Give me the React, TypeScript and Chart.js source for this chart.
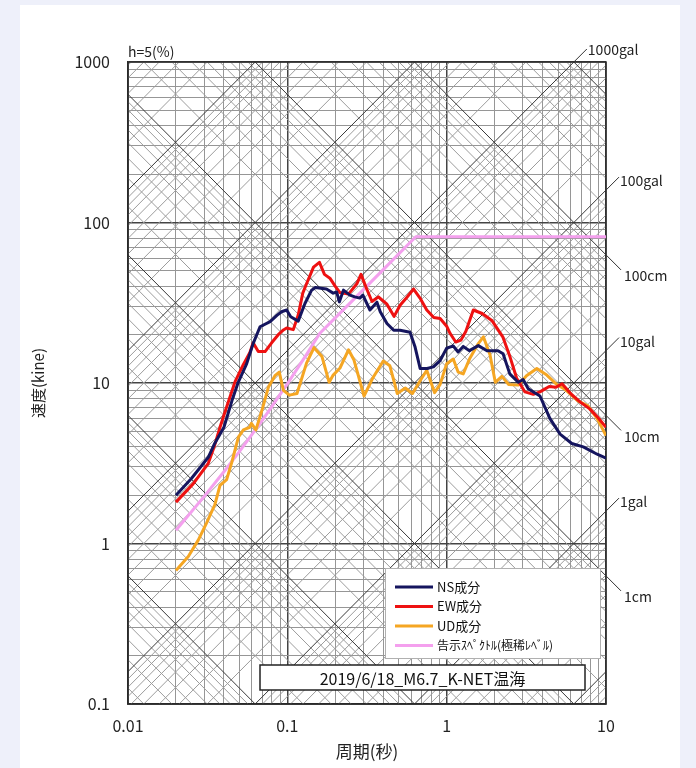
import React, { useEffect, useRef } from 'react';
import { Chart, registerables } from 'chart.js';

Chart.register(...registerables);

// ---------- data ----------
const nsPeriods = [0.02, 0.025, 0.032, 0.035, 0.04, 0.045, 0.049, 0.0556, 0.061, 0.0674, 0.078, 0.086, 0.092, 0.099, 0.105, 0.117, 0.129, 0.142, 0.15, 0.176, 0.194, 0.204, 0.212, 0.225, 0.247, 0.265, 0.285, 0.298, 0.33, 0.365, 0.383, 0.422, 0.465, 0.51, 0.589, 0.632, 0.682, 0.753, 0.826, 0.91, 1.0, 1.1, 1.18, 1.27, 1.39, 1.58, 1.79, 2.1, 2.26, 2.49, 2.81, 3.02, 3.25, 3.85, 4.45, 5.15, 6.1, 7.2, 8.8, 10];
const nsValues = [2.0, 2.54, 3.46, 4.2, 5.3, 7.8, 10.0, 13.2, 17.6, 22.4, 24.1, 26.4, 27.8, 28.5, 25.9, 24.3, 31.3, 37.9, 39.3, 38.5, 36.3, 36.9, 32.0, 37.9, 35.3, 34.4, 33.8, 35.3, 28.5, 31.9, 27.8, 23.5, 21.3, 21.3, 20.7, 16.9, 12.3, 12.3, 12.6, 13.8, 16.5, 17.0, 15.6, 16.9, 15.9, 17.1, 15.9, 15.9, 15.2, 11.4, 10.1, 10.5, 9.2, 8.3, 6.0, 4.8, 4.2, 4.0, 3.6, 3.4];

const ewPeriods = [0.02, 0.0257, 0.0319, 0.035, 0.0378, 0.0406, 0.0437, 0.047, 0.0529, 0.0582, 0.061, 0.0657, 0.0725, 0.0797, 0.0877, 0.0945, 0.099, 0.109, 0.117, 0.125, 0.132, 0.146, 0.159, 0.171, 0.185, 0.2, 0.214, 0.242, 0.273, 0.29, 0.315, 0.34, 0.373, 0.422, 0.468, 0.51, 0.56, 0.62, 0.68, 0.75, 0.83, 0.91, 1.0, 1.05, 1.14, 1.23, 1.32, 1.47, 1.67, 1.93, 2.25, 2.5, 2.75, 3.1, 3.5, 3.85, 4.4, 4.85, 5.3, 6.0, 6.9, 7.9, 8.9, 10];
const ewValues = [1.81, 2.36, 3.16, 4.1, 5.3, 6.6, 8.2, 10.2, 13.0, 15.5, 17.8, 15.7, 15.7, 17.8, 20.0, 21.4, 22.0, 21.5, 26.5, 36.3, 41.5, 52.7, 56.5, 47.5, 45.0, 40.0, 36.6, 35.8, 41.5, 47.5, 38.5, 32.2, 34.4, 31.0, 26.0, 30.5, 34.0, 38.5, 33.8, 28.5, 25.6, 25.2, 22.6, 20.4, 18.0, 18.5, 21.0, 28.5, 27.1, 24.4, 19.4, 14.5, 10.7, 8.8, 8.5, 8.8, 9.5, 9.4, 9.9, 8.6, 7.6, 6.9, 6.1, 5.3];

const udPeriods = [0.02, 0.0239, 0.0276, 0.0311, 0.0351, 0.0378, 0.0416, 0.0448, 0.0493, 0.053, 0.058, 0.0595, 0.0635, 0.07, 0.076, 0.0836, 0.089, 0.0945, 0.103, 0.115, 0.132, 0.147, 0.165, 0.183, 0.194, 0.214, 0.242, 0.262, 0.303, 0.343, 0.4, 0.44, 0.49, 0.55, 0.61, 0.68, 0.75, 0.84, 0.91, 1.0, 1.1, 1.18, 1.27, 1.39, 1.58, 1.7, 1.87, 2.02, 2.22, 2.45, 2.81, 3.17, 3.68, 4.25, 4.9, 5.55, 6.7, 7.7, 8.8, 10];
const udValues = [0.68, 0.83, 1.05, 1.34, 1.75, 2.3, 2.5, 3.2, 4.6, 5.1, 5.3, 5.6, 5.1, 7.0, 9.4, 11.1, 11.7, 9.0, 8.4, 8.6, 13.3, 16.6, 14.6, 10.1, 11.2, 12.4, 16.1, 13.9, 8.3, 10.7, 13.7, 12.8, 8.6, 9.3, 8.6, 10.3, 12.0, 8.7, 9.8, 13.2, 14.1, 11.7, 11.4, 14.1, 17.6, 19.4, 15.0, 10.1, 11.0, 9.8, 9.7, 11.1, 12.3, 11.2, 9.8, 9.1, 7.7, 7.2, 6.0, 4.7];

const codePeriods = [0.02, 0.03, 0.04, 0.05, 0.07, 0.1, 0.13, 0.16, 0.25, 0.4, 0.64, 1, 2, 5, 10];
const codeValues = [1.21, 1.96, 2.8, 3.74, 5.9, 9.87, 14.7, 20.4, 31.8, 50.9, 81.5, 81.5, 81.5, 81.5, 81.5];

const seriesLabels = ['NS成分', 'EW成分', 'UD成分', '告示ｽﾍﾟｸﾄﾙ(極稀ﾚﾍﾞﾙ)'];
const seriesColors = ['#15155e', '#ee1111', '#f5a623', '#f4a0ee'];

const xMajor = [0.01, 0.1, 1, 10];
const xTickLabels = ['0.01', '0.1', '1', '10'];
const yMajor = [0.1, 1, 10, 100, 1000];
const yTickLabels = ['0.1', '1', '10', '100', '1000'];

const galLabels = ['1000gal', '100gal', '10gal', '1gal'];
const galValues = [1000, 100, 10, 1];
const cmLabels = ['100cm', '10cm', '1cm'];
const cmValues = [100, 10, 1];

const titleText = '2019/6/18_M6.7_K-NET温海';
const dampingText = 'h=5(%)';
const xTitle = '周期(秒)';
const yTitle = '速度(kine)';

const FONT = "'Noto Sans CJK JP', 'Noto Sans', sans-serif";

function gridValues(majors: number[]) {
  const out: number[] = [];
  majors.forEach((d, i) => {
    out.push(d);
    if (i < majors.length - 1) for (let m = 2; m <= 9; m++) out.push(m * d);
  });
  return out;
}
const xGrid = gridValues(xMajor);
const yGrid = gridValues(yMajor);

const zip = (xs: number[], ys: number[]) =>
  xs.slice(0, Math.min(xs.length, ys.length)).map((x, i) => ({ x, y: ys[i] }));

const isMajor = (v: number, majors: number[]) => majors.some((m) => Math.abs(v - m) / m < 1e-6);

const TWO_PI = 2 * Math.PI;

const bgPlugin = {
  id: 'bgPanel',
  beforeDraw(chart: any) {
    const ctx = chart.ctx;
    ctx.save();
    ctx.fillStyle = '#eef0fa';
    ctx.fillRect(0, 0, chart.width, chart.height);
    ctx.fillStyle = '#ffffff';
    ctx.fillRect(20, 5, 660, chart.height - 5);
    ctx.restore();
  },
};

const diagPlugin = {
  id: 'tripartite',
  beforeDatasetsDraw(chart: any) {
    const { ctx, chartArea: a, scales } = chart;
    const xs = scales.x;
    const ys = scales.y;
    const t0 = xMajor[0];
    const t1 = xMajor[xMajor.length - 1];
    ctx.save();
    ctx.beginPath();
    ctx.rect(a.left, a.top, a.right - a.left, a.bottom - a.top);
    ctx.clip();
    const seg = (v0: number, v1: number) => {
      ctx.beginPath();
      ctx.moveTo(xs.getPixelForValue(t0), ys.getPixelForValue(v0));
      ctx.lineTo(xs.getPixelForValue(t1), ys.getPixelForValue(v1));
      ctx.stroke();
    };
    for (const pass of [0, 1]) {
      ctx.strokeStyle = pass === 0 ? '#9c9c9c' : '#383838';
      ctx.lineWidth = 1;
      const mults = pass === 0 ? [2, 3, 4, 5, 6, 7, 8, 9] : [1];
      // displacement lines (cm): V = 2πD/T
      for (let k = -5; k <= 3; k++) {
        for (const m of mults) {
          const d = m * Math.pow(10, k);
          seg((TWO_PI * d) / t0, (TWO_PI * d) / t1);
        }
      }
      // acceleration lines (gal): V = A T / 2π
      for (let k = -3; k <= 6; k++) {
        for (const m of mults) {
          const acc = m * Math.pow(10, k);
          seg((acc * t0) / TWO_PI, (acc * t1) / TWO_PI);
        }
      }
    }
    ctx.restore();
    // plot frame
    ctx.save();
    ctx.strokeStyle = '#2a2a2a';
    ctx.lineWidth = 1.5;
    ctx.strokeRect(a.left, a.top, a.right - a.left, a.bottom - a.top);
    ctx.restore();
  },
};

const textPlugin = {
  id: 'annotations',
  afterDraw(chart: any) {
    const { ctx, chartArea: a, scales } = chart;
    const xs = scales.x;
    const ys = scales.y;
    const tMax = xMajor[xMajor.length - 1];
    const vMax = yMajor[yMajor.length - 1];
    ctx.save();
    ctx.fillStyle = '#222';
    ctx.strokeStyle = '#333';
    ctx.lineWidth = 1;

    // axis titles
    ctx.font = `17px ${FONT}`;
    ctx.textAlign = 'center';
    ctx.textBaseline = 'middle';
    ctx.fillText(xTitle, (a.left + a.right) / 2, 752);
    ctx.save();
    ctx.translate(38, (a.top + a.bottom) / 2);
    ctx.rotate(-Math.PI / 2);
    ctx.font = `15px ${FONT}`;
    ctx.fillText(yTitle, 0, 0);
    ctx.restore();

    // damping
    ctx.font = `14px ${FONT}`;
    ctx.textAlign = 'left';
    ctx.textBaseline = 'alphabetic';
    ctx.fillText(dampingText, a.left, a.top - 5);

    // gal labels
    ctx.font = `14px ${FONT}`;
    ctx.textBaseline = 'middle';
    galValues.forEach((acc, i) => {
      let tx = tMax;
      let v = (acc * tMax) / TWO_PI;
      let top = false;
      if (v > vMax) {
        v = vMax;
        tx = (TWO_PI * vMax) / acc;
        top = true;
      }
      const px = xs.getPixelForValue(tx);
      const py = ys.getPixelForValue(v);
      const ex = px + 13;
      const ey = py - 13;
      ctx.beginPath();
      ctx.moveTo(px, py);
      ctx.lineTo(ex, ey);
      ctx.stroke();
      ctx.fillText(galLabels[i], ex + 1, ey + (top ? 1 : 4));
    });
    cmValues.forEach((d, i) => {
      const v = (TWO_PI * d) / tMax;
      const px = xs.getPixelForValue(tMax);
      const py = ys.getPixelForValue(v);
      const ex = px + 15;
      const ey = py + 15;
      ctx.beginPath();
      ctx.moveTo(px, py);
      ctx.lineTo(ex, ey);
      ctx.stroke();
      ctx.fillText(cmLabels[i], ex + 3, ey + 6);
    });

    // legend box
    const lx = 385, ly = 568, lw = 215, lh = 90;
    ctx.fillStyle = '#ffffff';
    ctx.fillRect(lx, ly, lw, lh);
    ctx.strokeStyle = '#b0b0b0';
    ctx.strokeRect(lx + 0.5, ly + 0.5, lw, lh);
    seriesLabels.forEach((lab, i) => {
      const y = ly + 19 + i * 19.5;
      ctx.strokeStyle = seriesColors[i];
      ctx.lineWidth = 3;
      ctx.beginPath();
      ctx.moveTo(lx + 10, y);
      ctx.lineTo(lx + 48, y);
      ctx.stroke();
      ctx.fillStyle = '#111';
      ctx.font = i === 3 ? `12px ${FONT}` : `13px ${FONT}`;
      ctx.textAlign = 'left';
      ctx.textBaseline = 'middle';
      ctx.fillText(lab, lx + 52, y);
    });

    // title box
    const bx = 260, by = 665, bw = 325, bh = 25;
    ctx.fillStyle = '#ffffff';
    ctx.fillRect(bx, by, bw, bh);
    ctx.strokeStyle = '#222';
    ctx.lineWidth = 1.5;
    ctx.strokeRect(bx, by, bw, bh);
    ctx.fillStyle = '#111';
    ctx.font = `16px ${FONT}`;
    ctx.textAlign = 'center';
    ctx.textBaseline = 'middle';
    ctx.fillText(titleText, bx + bw / 2, by + bh / 2 + 1);
    ctx.restore();
  },
};

export default function App() {
  const canvasRef = useRef<HTMLCanvasElement | null>(null);

  useEffect(() => {
    if (!canvasRef.current) return;
    const mk = (label: string, color: string, pts: { x: number; y: number }[]) => ({
      label,
      data: pts,
      borderColor: color,
      backgroundColor: color,
      borderWidth: 3,
      pointRadius: 0,
      tension: 0,
      fill: false,
      borderJoinStyle: 'round' as const,
    });
    const chart = new Chart(canvasRef.current, {
      type: 'line',
      data: {
        datasets: [
          mk(seriesLabels[0], seriesColors[0], zip(nsPeriods, nsValues)),
          mk(seriesLabels[1], seriesColors[1], zip(ewPeriods, ewValues)),
          mk(seriesLabels[2], seriesColors[2], zip(udPeriods, udValues)),
          mk(seriesLabels[3], seriesColors[3], zip(codePeriods, codeValues)),
        ],
      },
      options: {
        animation: false,
        responsive: false,
        events: [],
        layout: { padding: { left: 0, right: 90, top: 62, bottom: 0 } },
        plugins: { legend: { display: false }, tooltip: { enabled: false }, title: { display: false } },
        scales: {
          x: {
            type: 'logarithmic',
            min: xMajor[0],
            max: xMajor[xMajor.length - 1],
            afterBuildTicks: (s: any) => {
              s.ticks = xGrid.map((v) => ({ value: v }));
            },
            afterFit: (s: any) => {
              s.height = 64;
            },
            ticks: {
              autoSkip: false,
              maxRotation: 0,
              minRotation: 0,
              padding: 12,
              color: '#222',
              font: { family: FONT, size: 16 },
              callback: (v: any) => {
                const i = xMajor.findIndex((m) => Math.abs(Number(v) - m) / m < 1e-6);
                return i >= 0 ? xTickLabels[i] : '';
              },
            },
            grid: {
              drawTicks: false,
              color: (c: any) => (c.tick && isMajor(c.tick.value, xMajor) ? '#444' : '#969696'),
              lineWidth: (c: any) => (c.tick && isMajor(c.tick.value, xMajor) ? 1.5 : 1),
            },
            border: { display: true, color: '#2a2a2a', width: 1.5 },
          },
          y: {
            type: 'logarithmic',
            min: yMajor[0],
            max: yMajor[yMajor.length - 1],
            afterBuildTicks: (s: any) => {
              s.ticks = yGrid.map((v) => ({ value: v }));
            },
            afterFit: (s: any) => {
              s.width = 128;
            },
            ticks: {
              autoSkip: false,
              padding: 18,
              color: '#222',
              font: { family: FONT, size: 16 },
              callback: (v: any) => {
                const i = yMajor.findIndex((m) => Math.abs(Number(v) - m) / m < 1e-6);
                return i >= 0 ? yTickLabels[i] : '';
              },
            },
            grid: {
              drawTicks: false,
              color: (c: any) => (c.tick && isMajor(c.tick.value, yMajor) ? '#444' : '#969696'),
              lineWidth: (c: any) => (c.tick && isMajor(c.tick.value, yMajor) ? 1.5 : 1),
            },
            border: { display: true, color: '#2a2a2a', width: 1.5 },
          },
        },
      } as any,
      plugins: [bgPlugin, diagPlugin, textPlugin],
    });
    return () => chart.destroy();
  }, []);

  return (
    <div style={{ position: 'absolute', left: 0, top: 0, width: 696, height: 768 }}>
      <canvas ref={canvasRef} width={696} height={768} style={{ display: 'block', width: 696, height: 768 }} />
    </div>
  );
}
